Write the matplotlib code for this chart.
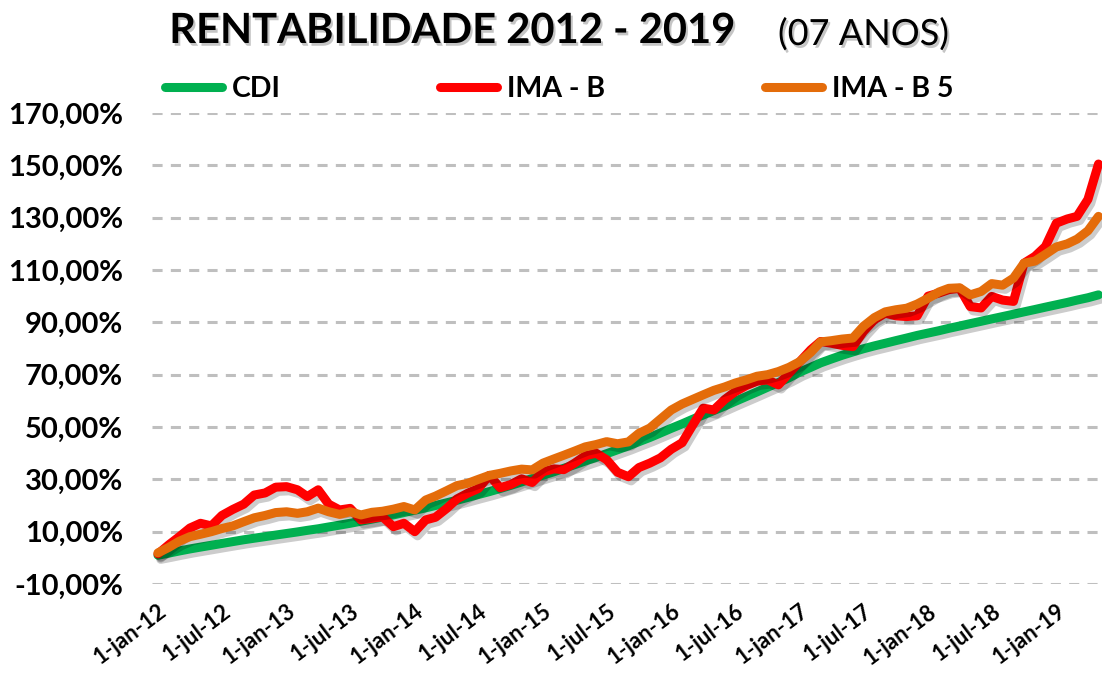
import matplotlib
matplotlib.use('Agg')
import matplotlib.pyplot as plt
import matplotlib.patheffects as pe
from matplotlib.lines import Line2D
from matplotlib.ticker import FuncFormatter
import pandas as pd

plt.rcParams['font.family'] = ['Lato', 'DejaVu Sans']

# monthly accumulated return (%), jan/2012 .. may/2019
dates = pd.date_range('2012-01-01', periods=89, freq='MS')

cdi = [
    1.0, 1.8, 2.6, 3.4, 4.1, 4.8, 5.5, 6.2, 6.9, 7.5, 8.1, 8.7,
    9.3, 9.9, 10.5, 11.1, 11.8, 12.5, 13.2, 14.0, 14.8, 15.6, 16.4, 17.3,
    18.2, 19.1, 20.0, 21.0, 22.0, 23.1, 24.2, 25.3, 26.5, 27.7, 29.0, 30.3,
    31.6, 32.9, 34.2, 35.6, 37.0, 38.4, 39.8, 41.3, 42.8, 44.4, 46.0, 47.7,
    49.5, 51.2, 52.9, 54.6, 56.3, 58.0, 59.8, 61.6, 63.4, 65.2, 67.0, 68.8,
    71.0, 72.8, 74.5, 76.0, 77.4, 78.7, 79.9, 81.0, 82.0, 83.0, 84.0, 85.0,
    85.9, 86.8, 87.7, 88.6, 89.5, 90.4, 91.3, 92.2, 93.1, 94.0, 94.9, 95.8,
    96.7, 97.6, 98.5, 99.4, 100.5,
]

ima_b = [
    1.5, 5.0, 8.0, 11.4, 13.2, 12.2, 16.2, 18.5, 20.5, 24.0, 24.8, 27.0,
    27.2, 26.0, 23.4, 26.0, 20.5, 18.3, 18.9, 14.5, 15.1, 15.7, 11.9, 13.2,
    10.0, 14.5, 15.5, 18.8, 22.5, 24.7, 26.5, 31.5, 26.8, 28.0, 30.2, 28.8,
    32.9, 34.0, 33.7, 36.2, 39.0, 40.0, 37.5, 32.7, 31.0, 34.5, 36.2, 38.2,
    41.5, 44.0, 50.5, 57.2, 56.5, 60.5, 63.5, 65.8, 67.5, 68.0, 66.1, 70.5,
    75.0, 79.5, 82.7, 82.0, 81.2, 80.7, 86.5, 91.0, 93.5, 92.5, 92.2, 92.5,
    100.0, 101.2, 102.5, 103.0, 96.0, 95.5, 99.9, 98.5, 98.0, 112.6, 115.2, 119.0,
    127.9, 129.5, 130.5, 137.0, 150.5,
]

ima_b5 = [
    1.9, 4.0, 6.3, 8.1, 9.0, 10.0, 11.2, 12.2, 13.8, 15.3, 16.2, 17.3,
    17.6, 17.0, 17.6, 19.0, 17.6, 16.6, 17.6, 16.4, 17.4, 17.8, 18.6, 19.6,
    18.3, 22.1, 23.6, 25.6, 27.6, 28.5, 30.0, 31.5, 32.3, 33.2, 33.9, 33.6,
    36.2, 37.8, 39.2, 40.8, 42.4, 43.3, 44.4, 43.6, 44.3, 47.6, 49.6, 53.0,
    56.5, 58.8, 60.5, 62.3, 64.0, 65.3, 66.8, 68.0, 69.4, 70.0, 71.2, 72.8,
    75.0, 78.5, 82.5, 83.0, 83.6, 84.0, 88.5, 91.8, 94.0, 94.8, 95.4, 97.0,
    99.2, 101.6, 103.0, 103.2, 100.5, 101.8, 104.8, 104.2, 106.9, 112.6, 113.4, 116.0,
    118.8, 120.0, 121.8, 125.0, 130.5,
]

labels = ['CDI', 'IMA - B', 'IMA - B 5']
colors = ['#00B050', '#FF0000', '#E46C0A']

tick_dates = pd.date_range('2012-01-01', '2019-01-01', freq='6MS')
tick_labels = [f"1-{'jan' if d.month == 1 else 'jul'}-{d:%y}" for d in tick_dates]

W, H = 1102, 677
fig = plt.figure(figsize=(W / 100, H / 100), dpi=100)
ax = fig.add_axes([152 / W, 1 - 584 / H, 950 / W, (584 - 113) / H])

shadow = [pe.SimpleLineShadow(offset=(2, -3), shadow_color='black', alpha=0.2), pe.Normal()]
for vals, color in zip([cdi, ima_b, ima_b5], colors):
    ax.plot(dates, vals, color=color, lw=6.5, solid_joinstyle='round',
            solid_capstyle='round', path_effects=shadow, zorder=3)

ax.set_ylim(-10, 170)
ax.set_yticks(range(-10, 171, 20))
ax.yaxis.set_major_formatter(FuncFormatter(lambda v, p: f"{v:.2f}%".replace('.', ',')))
ax.set_xlim(dates[0] - pd.Timedelta(days=17), dates[-1] + pd.Timedelta(days=10))
ax.set_xticks(tick_dates)
ax.set_xticklabels(tick_labels, rotation=37, ha='right', va='top',
                   rotation_mode='anchor', fontsize=16, fontweight='bold')
ax.tick_params(axis='both', length=0)
ax.tick_params(axis='y', pad=21, labelsize=21)
ax.tick_params(axis='x', pad=12)
plt.setp(ax.get_yticklabels(), fontweight='bold')

ax.grid(axis='y', color='#BFBFBF', lw=2.2, linestyle=(0, (3.3, 2.7)))
ax.set_axisbelow(True)
for s in ax.spines.values():
    s.set_visible(False)

handles = [Line2D([], [], color=c, lw=6.5, solid_capstyle='round') for c in colors]
fig.legend(handles, labels, loc='center left', bbox_to_anchor=(165 / W, 1 - 89 / H),
           ncol=3, frameon=False, prop={'weight': 'bold', 'size': 20.5},
           handlelength=2.0, handletextpad=0.35, columnspacing=5.6,
           borderpad=0, borderaxespad=0)

title_fx = [pe.withSimplePatchShadow(offset=(1.5, -2), shadow_rgbFace='gray', alpha=0.45)]
fig.text(735 / W, 1 - 43 / H, 'RENTABILIDADE 2012 - 2019', ha='right', va='baseline',
         fontsize=30, fontweight='bold', path_effects=title_fx)
fig.text(778 / W, 1 - 45 / H, '(07 ANOS)', ha='left', va='baseline',
         fontsize=26, path_effects=title_fx)

fig.savefig('out.png', dpi=100)
